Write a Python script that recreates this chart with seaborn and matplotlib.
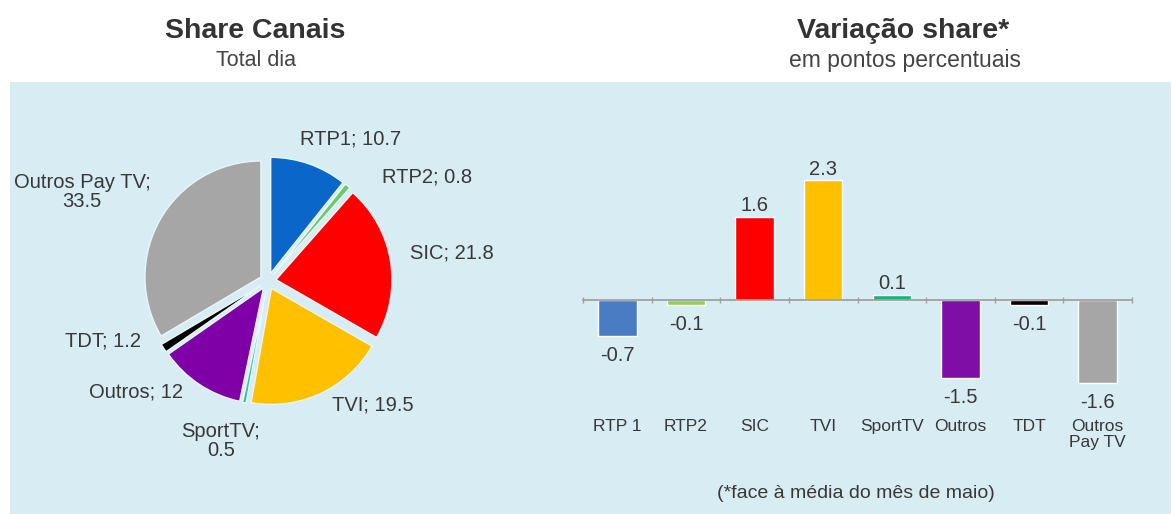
import numpy as np
import pandas as pd
import matplotlib
matplotlib.use("Agg")
import matplotlib.pyplot as plt
from matplotlib import font_manager
from matplotlib.patches import Rectangle
import seaborn as sns

# ---------------- data ----------------
pie_names = ["RTP1", "RTP2", "SIC", "TVI", "SportTV", "Outros", "TDT", "Outros Pay TV"]
pie_values = [10.7, 0.8, 21.8, 19.5, 0.5, 12, 1.2, 33.5]
pie_colors = ["#0a66c8", "#66cc66", "#ff0000", "#ffc000", "#2ec4a0", "#7e00a6", "#000000", "#a6a6a6"]

bar_cats = ["RTP 1", "RTP2", "SIC", "TVI", "SportTV", "Outros", "TDT", "Outros\nPay TV"]
bar_values = [-0.7, -0.1, 1.6, 2.3, 0.1, -1.5, -0.1, -1.6]
bar_colors = ["#4a7cc4", "#92d050", "#ff0000", "#ffc000", "#1db07a", "#7e0ea6", "#000000", "#a6a6a6"]

# ---------------- style ----------------
sns.set_theme(style="white")
avail = {f.name for f in font_manager.fontManager.ttflist}
base_font = "Liberation Sans" if "Liberation Sans" in avail else "DejaVu Sans"
plt.rcParams["font.family"] = [base_font, "DejaVu Sans"]

TXT = "#383838"
PANEL = "#d7ecf3"
W, H = 1171, 514

fig = plt.figure(figsize=(W / 100, H / 100), dpi=100)
fig.patch.set_facecolor("white")
fig.patches.append(Rectangle((10 / W, 0), 1 - 10 / W, (H - 82) / H,
                             transform=fig.transFigure, facecolor=PANEL,
                             edgecolor="none", zorder=-10))

def px(x, y):
    return x / W, 1 - y / H

# ---------------- titles ----------------
fig.text(*px(255, 31), "Share Canais", ha="center", va="center", fontsize=20.5,
         fontweight="bold", color="#333333")
fig.text(*px(256, 60), "Total dia", ha="center", va="center", fontsize=15.5,
         color="#444444")
fig.text(*px(903, 31), "Variação share*", ha="center", va="center", fontsize=20.5,
         fontweight="bold", color="#333333")
fig.text(*px(905, 60), "em pontos percentuais", ha="center", va="center", fontsize=16.5,
         color="#444444")

# ---------------- pie ----------------
r_px, cx, cy = 116, 268, 281
half = 1.6 * r_px
ax1 = fig.add_axes([(cx - half) / W, (H - cy - half) / H, 2 * half / W, 2 * half / H])
ax1.set_facecolor("none")
wedges, _ = ax1.pie(pie_values, colors=pie_colors, startangle=90, counterclock=False,
                    explode=[0.07] * len(pie_values), radius=1,
                    wedgeprops=dict(edgecolor="#eaf6fa", linewidth=1.0))
ax1.set_xlim(-1.6, 1.6)
ax1.set_ylim(-1.6, 1.6)
ax1.axis("off")

label_pos = [(351, 139), (427, 177), (452, 253), (373, 405),
             (221, 441), (136, 392), (103, 341), (82, 192)]
label_text = [f"{n}; {v:g}" for n, v in zip(pie_names, pie_values)]
label_text[4] = f"{pie_names[4]};\n{pie_values[4]:g}"
label_text[7] = f"{pie_names[7]};\n{pie_values[7]:g}"
for (lx, ly), t in zip(label_pos, label_text):
    ax1.text((lx - cx) / r_px, (cy - ly) / r_px, t, ha="center", va="center",
             fontsize=14.5, color=TXT, linespacing=1.05)

# ---------------- bars ----------------
ppu = 52.0
zero_y, top_y, bot_y = 300, 165, 410
ax2 = fig.add_axes([583 / W, (H - bot_y) / H, 549 / W, (bot_y - top_y) / H])
ax2.set_facecolor("none")
df = pd.DataFrame({"cat": bar_cats, "val": bar_values})
sns.barplot(data=df, x="cat", y="val", hue="cat", palette=bar_colors, legend=False,
            width=0.56, saturation=1, ax=ax2)
ax2.set_ylim(-(bot_y - zero_y) / ppu, (zero_y - top_y) / ppu)
ax2.set_xlim(-0.5, len(bar_cats) - 0.5)
for c, v in zip(ax2.containers, bar_values):
    ax2.bar_label(c, labels=[f"{v:g}"], padding=(1 if v > 0 else 7),
                  fontsize=14.5, color=TXT)
for s in ["top", "right", "left"]:
    ax2.spines[s].set_visible(False)
ax2.spines["bottom"].set_position(("data", 0))
ax2.spines["bottom"].set_color("#a0a0a0")
ax2.spines["bottom"].set_linewidth(1.3)
ax2.set_yticks([])
ax2.set_xlabel("")
ax2.set_ylabel("")
ax2.set_xticks(np.arange(-0.5, len(bar_cats), 1), minor=True)
ax2.tick_params(axis="x", which="major", length=0, pad=(419 - zero_y) * 0.72,
                labelsize=12.5, labelcolor=TXT)
ax2.tick_params(axis="x", which="minor", length=5, direction="inout", color="#a0a0a0",
                width=1, bottom=True)
for lab in ax2.get_xticklabels():
    lab.set_linespacing(1.05)

fig.text(*px(856, 493), "(*face à média do mês de maio)", ha="center", va="center",
         fontsize=14, color=TXT)

fig.savefig("out.png", dpi=100, facecolor="white")
